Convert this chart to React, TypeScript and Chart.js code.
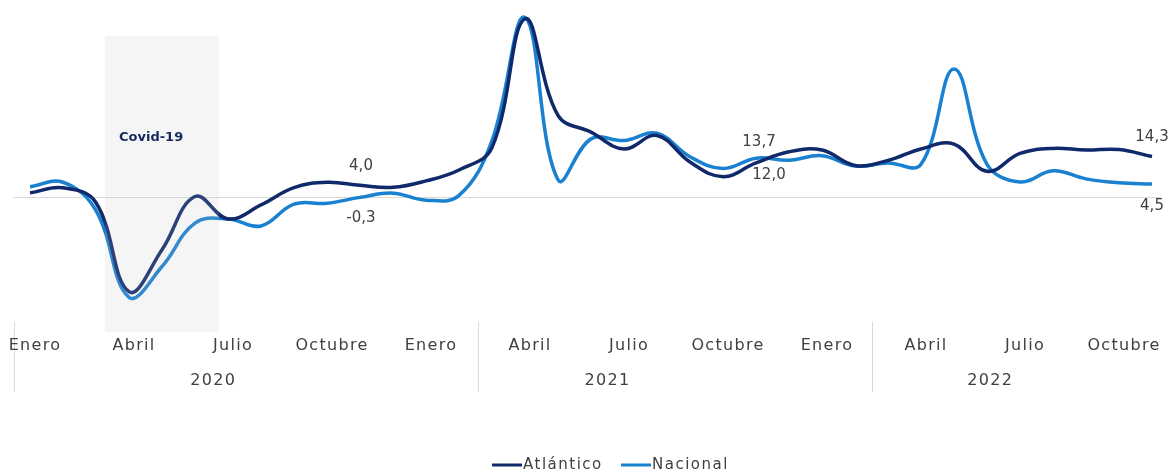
import React, { useEffect, useRef } from "react";
import { Chart, registerables } from "chart.js";

Chart.register(...registerables);

const categories = [
  "2020-01", "2020-02", "2020-03", "2020-04", "2020-05", "2020-06",
  "2020-07", "2020-08", "2020-09", "2020-10", "2020-11", "2020-12",
  "2021-01", "2021-02", "2021-03", "2021-04", "2021-05", "2021-06",
  "2021-07", "2021-08", "2021-09", "2021-10", "2021-11", "2021-12",
  "2022-01", "2022-02", "2022-03", "2022-04", "2022-05", "2022-06",
  "2022-07", "2022-08", "2022-09", "2022-10", "2022-11",
];

const atlantico = [
  1.3, 3.1, -2.2, -34.0, -19.0, 0.0, -8.0, -3.0, 3.2, 5.1, 4.0, 3.3,
  5.6, 9.5, 17.5, 63.5, 29.0, 23.0, 17.0, 21.8, 12.3, 7.1, 12.0, 16.0,
  16.6, 11.1, 12.9, 17.0, 18.7, 9.0, 15.4, 17.2, 16.6, 16.8, 14.3,
];

const nacional = [
  3.5, 5.1, -5.0, -36.0, -25.0, -9.5, -8.0, -10.5, -2.7, -2.4, -0.3, 1.2,
  -1.3, 0.4, 20.0, 64.0, 6.0, 20.6, 20.0, 22.6, 14.2, 10.0, 13.7, 13.0,
  14.6, 10.9, 12.0, 11.5, 45.6, 11.5, 5.2, 9.2, 6.3, 4.9, 4.5,
];

const seriesNames = ["Atlántico", "Nacional"];
const tickIndices = [0, 3, 6, 9, 12, 15, 18, 21, 24, 27, 30, 33];
const tickLabels = [
  "Enero", "Abril", "Julio", "Octubre",
  "Enero", "Abril", "Julio", "Octubre",
  "Enero", "Abril", "Julio", "Octubre",
];
const yearLabels = ["2020", "2021", "2022"];
const labelledIndices = [10, 22, 34];
const covidText = "Covid-19";

const COLORS = ["#10296a", "#1a80d0"];
const TEXT = "#404040";

const fmt = (v: number) => v.toFixed(1).replace(".", ",");

const overlayPlugin = {
  id: "overlay",
  beforeDatasetsDraw(chart: any) {
    const { ctx, scales } = chart;
    const x = scales.x;
    const y = scales.y;
    ctx.save();
    ctx.strokeStyle = "#d9d9d9";
    ctx.lineWidth = 1;
    const y0 = Math.round(y.getPixelForValue(0)) + 0.5;
    ctx.beginPath();
    ctx.moveTo(x.getPixelForValue(-0.52), y0);
    ctx.lineTo(x.getPixelForValue(34.25), y0);
    ctx.stroke();
    ctx.restore();
  },
  afterDatasetsDraw(chart: any) {
    const { ctx, scales, chartArea } = chart;
    const x = scales.x;
    const y = scales.y;
    ctx.save();

    // Covid shaded band
    const bx1 = x.getPixelForValue(2.27);
    const bx2 = x.getPixelForValue(5.73);
    const by1 = y.getPixelForValue(57.3);
    const by2 = chartArea.bottom;
    ctx.fillStyle = "rgba(190,190,190,0.16)";
    ctx.fillRect(bx1, by1, bx2 - bx1, by2 - by1);

    ctx.fillStyle = "#14285e";
    ctx.font = 'bold 13px "DejaVu Sans"';
    ctx.textAlign = "center";
    ctx.textBaseline = "middle";
    ctx.fillText(covidText, x.getPixelForValue(3.67), 138);

    // data labels
    ctx.fillStyle = TEXT;
    ctx.font = '15px "DejaVu Sans"';
    const offsets: Record<string, [number, number][]> = {
      a: [[1, -19], [13, 12], [0, -19.5]],
      n: [[1, 21], [3, -16], [0, 22]],
    };
    labelledIndices.forEach((idx, k) => {
      const px = x.getPixelForValue(idx);
      const pa = y.getPixelForValue(atlantico[idx]);
      const pn = y.getPixelForValue(nacional[idx]);
      ctx.fillText(fmt(atlantico[idx]), px + offsets.a[k][0], pa + offsets.a[k][1]);
      ctx.fillText(fmt(nacional[idx]), px + offsets.n[k][0], pn + offsets.n[k][1]);
    });
    ctx.restore();
  },
  afterDraw(chart: any) {
    const { ctx, scales, chartArea } = chart;
    const x = scales.x;
    ctx.save();

    // separators of year groups
    ctx.strokeStyle = "#d9d9d9";
    ctx.lineWidth = 1;
    const sepIdx = [-0.5, 13.58, 25.5];
    sepIdx.forEach((s) => {
      const sx = Math.round(x.getPixelForValue(s)) + 0.5;
      ctx.beginPath();
      ctx.moveTo(sx, chartArea.bottom - 10);
      ctx.lineTo(sx, chartArea.bottom + 60);
      ctx.stroke();
    });

    ctx.fillStyle = TEXT;
    ctx.font = '16px "DejaVu Sans"';
    (ctx as any).letterSpacing = "1.3px";
    ctx.textAlign = "center";
    ctx.textBaseline = "middle";
    tickIndices.forEach((idx, k) => {
      ctx.fillText(tickLabels[k], x.getPixelForValue(idx) + 5, chartArea.bottom + 14);
    });
    const yearIdx = [5.55, 17.5, 29.1];
    yearLabels.forEach((lab, k) => {
      ctx.fillText(lab, x.getPixelForValue(yearIdx[k]), chartArea.bottom + 49);
    });

    // legend
    ctx.font = '15px "DejaVu Sans"';
    (ctx as any).letterSpacing = "1.5px";
    ctx.textAlign = "left";
    const ly = 465;
    const items = [
      { x0: 492, name: seriesNames[0], color: COLORS[0] },
      { x0: 621, name: seriesNames[1], color: COLORS[1] },
    ];
    items.forEach((it) => {
      ctx.strokeStyle = it.color;
      ctx.lineWidth = 3;
      ctx.beginPath();
      ctx.moveTo(it.x0, ly);
      ctx.lineTo(it.x0 + 30, ly);
      ctx.stroke();
      ctx.fillStyle = TEXT;
      ctx.fillText(it.name, it.x0 + 31, ly);
    });
    ctx.restore();
  },
};

export default function App() {
  const canvasRef = useRef<HTMLCanvasElement | null>(null);

  useEffect(() => {
    if (!canvasRef.current) return;
    const chart = new Chart(canvasRef.current, {
      type: "line",
      data: {
        labels: categories,
        datasets: [
          {
            label: seriesNames[0],
            data: atlantico,
            borderColor: COLORS[0],
            backgroundColor: COLORS[0],
            borderWidth: 3.5,
            pointRadius: 0,
            tension: 0.4,
            fill: false,
          },
          {
            label: seriesNames[1],
            data: nacional,
            borderColor: COLORS[1],
            backgroundColor: COLORS[1],
            borderWidth: 3.5,
            pointRadius: 0,
            tension: 0.4,
            fill: false,
          },
        ],
      },
      options: {
        animation: false,
        responsive: false,
        devicePixelRatio: 1,
        layout: { padding: { left: 30, right: 20, top: 9, bottom: 143 } },
        plugins: {
          legend: { display: false },
          tooltip: { enabled: false },
        },
        scales: {
          x: { display: false, offset: false },
          y: { display: false, min: -48.4, max: 67 },
        },
      },
      plugins: [overlayPlugin],
    });
    return () => chart.destroy();
  }, []);

  return (
    <div style={{ position: "fixed", left: 0, top: 0, width: 1172, height: 475, background: "#ffffff" }}>
      <canvas ref={canvasRef} width={1172} height={475} />
    </div>
  );
}
